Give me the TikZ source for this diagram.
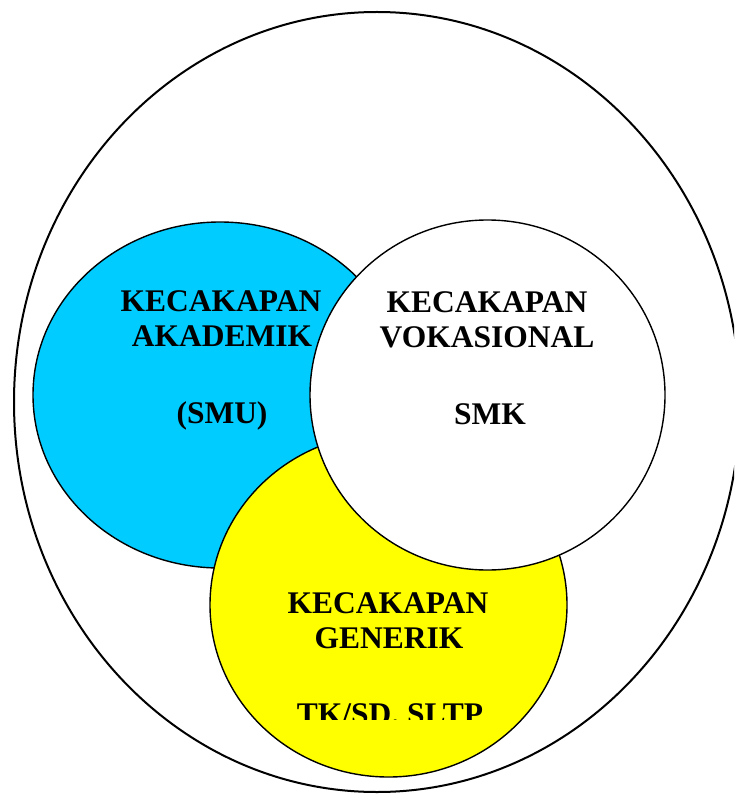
\documentclass[tikz,border=0pt]{standalone}
\usepackage{fontspec}
\setmainfont{Liberation Serif}
\definecolor{akblue}{RGB}{0,204,255}
\definecolor{genyellow}{RGB}{255,255,0}
\begin{document}
\begin{tikzpicture}[x=1pt,y=-1pt,
  circ/.style={draw=black,line width=1.4pt},
  lbl/.style={anchor=base,inner sep=0pt,font=\fontsize{31.5}{35}\selectfont\bfseries}]
\useasboundingbox (0,0) rectangle (734,794);
\begin{scope}
\clip (0,0) rectangle (734,794);
\draw[line width=2pt] (377,402) ellipse [x radius=363, y radius=390];
\end{scope}
\fill[akblue,circ] (220,395) ellipse [x radius=187, y radius=173];
\fill[genyellow,circ] (388.5,605) ellipse [x radius=178.5, y radius=172];
\fill[white,circ] (487.5,395) ellipse [x radius=177.5, y radius=175];
% blue texts
\node[lbl] (a1) at (221,311) {KECAKAPAN};
\node[lbl] (a2) at (222,346) {AKADEMIK};
\node[lbl] (a3) at (222,423) {(SMU)};
% white texts
\node[lbl] (v1) at (487,312) {KECAKAPAN};
\node[lbl] (v2) at (487,347) {VOKASIONAL};
\node[lbl] (v3) at (490,424) {SMK};
% yellow texts
\node[lbl] (g1) at (388,613) {KECAKAPAN};
\node[lbl] (g2) at (389,648) {GENERIK};
\begin{scope}
\clip (0,0) rectangle (734,719);
\node[lbl] (g3) at (390,724) {TK/SD. SLTP};
\end{scope}
\end{tikzpicture}
\end{document}
